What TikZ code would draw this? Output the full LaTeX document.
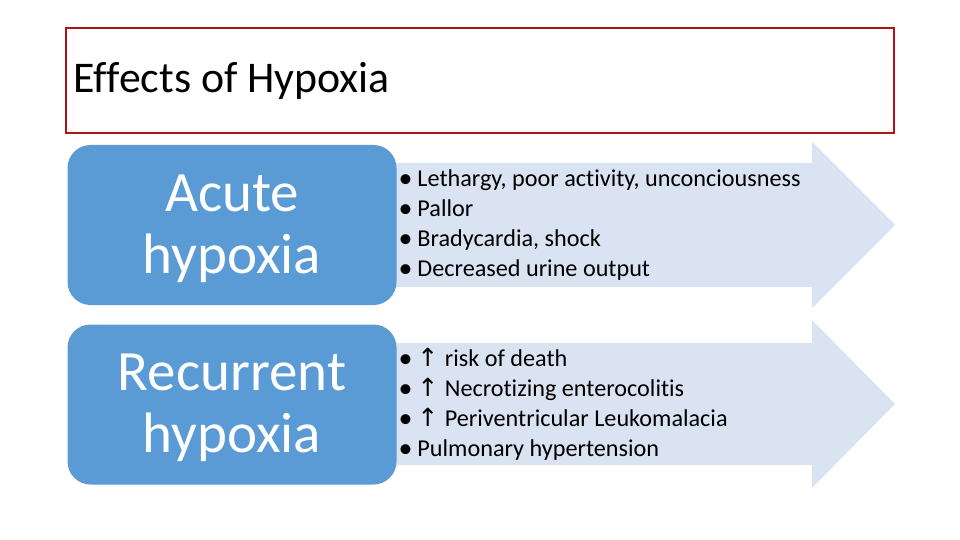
\documentclass[tikz,border=0pt]{standalone}
\usepackage{fontspec}
\setmainfont[Ligatures=NoCommon,RawFeature={-liga}]{Carlito}
\newfontfamily\symfont{DejaVu Sans}
\definecolor{boxblue}{RGB}{91,155,213}
\definecolor{arrowblue}{RGB}{218,227,242}
\definecolor{titlered}{RGB}{175,20,25}
\newcommand{\up}{{\symfont\fontsize{25}{20}\selectfont ↑}\hspace{1pt}}
\newcommand{\bul}{\smash{\fontsize{28}{30}\selectfont\raisebox{-1.5pt}{•}}\hspace{5pt}}
\begin{document}
\begin{tikzpicture}[x=1pt,y=-1pt,
  group/.style={fill=boxblue,rounded corners=23pt,minimum width=329pt,minimum height=160pt},
  grouptext/.style={text=white,align=center,font=\fontsize{57}{62}\selectfont},
  items/.style={anchor=west,align=left,font=\fontsize{24.2}{30}\selectfont},
  arrowbody/.style={fill=arrowblue}]
\useasboundingbox (0,0) rectangle (960,540);
% title
\node[draw=titlered,line width=2.8pt,minimum width=828pt,minimum height=105pt] (title) at (480,80.5) {};
\node[anchor=west,font=\fontsize{43.8}{45}\selectfont] (head) at (70,81) {Ef\kern0pt fects of Hypoxia};
% arrows
\fill[arrowbody] (380,163) -- (812,163) -- (812,142) -- (895,225) -- (812,308) -- (812,287) -- (380,287) -- cycle;
\fill[arrowbody] (380,343) -- (812,343) -- (812,320) -- (895,404) -- (812,488) -- (812,465) -- (380,465) -- cycle;
% groups
\node[group] (acute) at (232,225) {};
\node[grouptext] (acutetext) at (232,229) {Acute\\hypoxia};
\node[group] (recur) at (232,404.5) {};
\node[grouptext] (recurtext) at (232,408) {Recurrent\\hypoxia};
% effects
\node[items] (acutelist) at (395,225) {\bul Lethargy, poor activity, unconciousness\\\bul Pallor\\\bul Bradycardia, shock\\\bul Decreased urine output};
\node[items] (recurlist) at (395,404) {\bul\up{} risk of death\\\bul\up{} Necrotizing enterocolitis\\\bul\up{} Periventricular Leukomalacia\\\bul Pulmonary hypertension};
\end{tikzpicture}
\end{document}
